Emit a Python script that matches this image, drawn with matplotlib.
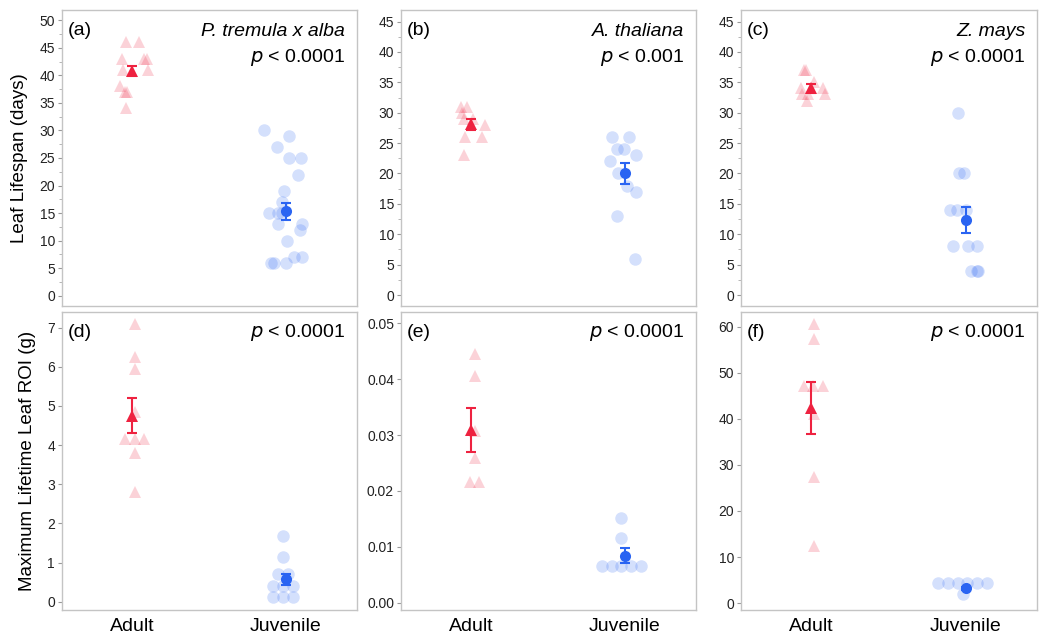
import matplotlib
matplotlib.use("Agg")
import matplotlib.pyplot as plt
from matplotlib.ticker import MultipleLocator, FormatStrFormatter

plt.rcParams['font.family'] = ['Liberation Sans', 'DejaVu Sans']

groups = ["Adult", "Juvenile"]
panel_labels = ["(a)", "(b)", "(c)", "(d)", "(e)", "(f)"]
species = ["P. tremula x alba", "A. thaliana", "Z. mays", None, None, None]
p_texts = ["< 0.0001", "< 0.001", "< 0.0001", "< 0.0001", "< 0.0001", "< 0.0001"]
ylabels = ["Leaf Lifespan (days)", "Maximum Lifetime Leaf ROI (g)"]

# individual values
a_adult = [46, 46, 43, 43, 43, 41, 41, 38, 37, 37, 34]
a_juv = [30, 29, 27, 25, 25, 22, 19, 17, 15, 15, 15, 13, 13, 12, 10, 7, 7, 6, 6, 6]
b_adult = [31, 31, 30, 29, 29, 28, 26, 26, 23]
b_juv = [26, 26, 24, 24, 23, 22, 20, 18, 17, 13, 6]
c_adult = [37, 37, 35, 34, 34, 33, 33, 33, 32]
c_juv = [30, 20, 20, 14, 14, 14, 8, 8, 8, 4, 4, 4]
d_adult = [7.1, 6.25, 5.95, 4.85, 4.15, 4.15, 4.15, 3.8, 2.8]
d_juv = [1.68, 1.15, 0.70, 0.70, 0.40, 0.40, 0.40, 0.13, 0.13, 0.13]
e_adult = [0.0444, 0.0406, 0.0307, 0.0259, 0.0216, 0.0216]
e_juv = [0.0152, 0.0115, 0.0065, 0.0065, 0.0065, 0.0065, 0.0065]
f_adult = [60.5, 57.4, 47.2, 47.2, 47.2, 41.1, 27.3, 12.4]
f_juv = [4.3, 4.3, 4.3, 4.3, 4.3, 4.3, 1.9]

# horizontal jitter of each point
a_adult_jit = [-0.041, 0.048, -0.065, 0.080, 0.100, -0.061, 0.102, -0.076, -0.046, -0.035, -0.041]
a_juv_jit = [-0.141, 0.022, -0.059, 0.022, 0.100, 0.082, -0.011, -0.026, -0.111, -0.048, -0.026,
             -0.054, 0.102, 0.093, 0.007, 0.050, 0.108, -0.095, -0.080, -0.002]
b_adult_jit = [-0.065, -0.024, -0.061, -0.046, 0.015, 0.089, -0.039, 0.074, -0.046]
b_juv_jit = [-0.082, 0.030, -0.052, -0.007, 0.074, -0.095, -0.046, 0.013, 0.074, -0.050, 0.069]
c_adult_jit = [-0.046, -0.037, 0.015, -0.067, 0.074, -0.061, -0.024, 0.087, -0.028]
c_juv_jit = [-0.050, -0.041, -0.009, -0.098, -0.054, 0.0, -0.080, 0.015, 0.072, 0.033, 0.076, 0.082]
d_adult_jit = [0.017, 0.017, 0.017, 0.017, -0.045, 0.020, 0.080, 0.017, 0.017]
d_juv_jit = [-0.020, -0.020, -0.052, 0.015, -0.085, -0.020, 0.046, -0.085, -0.020, 0.046]
e_adult_jit = [0.024, 0.024, 0.024, 0.024, -0.007, 0.054]
e_juv_jit = [-0.022, -0.022, -0.147, -0.082, -0.022, 0.043, 0.108]
f_adult_jit = [0.015, 0.015, -0.050, 0.011, 0.076, 0.015, 0.015, 0.015]
f_juv_jit = [-0.178, -0.113, -0.052, 0.011, 0.076, 0.137, -0.015]

# group means and standard errors
means_adult = [40.8, 28.1, 34.0, 4.75, 0.0309, 42.4]
se_adult = [0.9, 0.9, 0.8, 0.45, 0.0039, 5.6]
means_juv = [15.3, 20.0, 12.35, 0.57, 0.0084, 3.2]
se_juv = [1.6, 1.65, 2.2, 0.15, 0.0013, 0.4]

adult_vals = [a_adult, b_adult, c_adult, d_adult, e_adult, f_adult]
juv_vals = [a_juv, b_juv, c_juv, d_juv, e_juv, f_juv]
adult_jit = [a_adult_jit, b_adult_jit, c_adult_jit, d_adult_jit, e_adult_jit, f_adult_jit]
juv_jit = [a_juv_jit, b_juv_jit, c_juv_jit, d_juv_jit, e_juv_jit, f_juv_jit]

ylims = [(-1.9, 51.9), (-1.8, 46.9), (-1.8, 46.9), (-0.21, 7.40), (-0.0013, 0.0520), (-1.5, 63.2)]
ymajor = [5, 5, 5, 1, 0.01, 10]
ymax_tick = [50, 45, 45, 7, 0.05, 60]

RED = "#ee2240"
BLUE = "#2a64f2"
SPINE = "#c4c4c4"

W, H = 1050, 642
fig = plt.figure(figsize=(W / 100, H / 100), dpi=100)
cols = [(62, 357), (401, 696), (741, 1037)]
rows = [(10, 306), (312, 610)]

for i in range(6):
    r, c = divmod(i, 3)
    x0, x1 = cols[c]
    t, b = rows[r]
    ax = fig.add_axes([x0 / W, 1 - b / H, (x1 - x0) / W, (b - t) / H])
    ax.set_xlim(-0.455, 1.4625)
    ax.set_ylim(*ylims[i])

    xa = [0 + j for j in adult_jit[i]]
    xj = [1 + j for j in juv_jit[i]]
    ax.plot(xa, adult_vals[i], linestyle="none", marker="^", markersize=9,
            color=RED, alpha=0.2, markeredgewidth=0, zorder=2)
    ax.plot(xj, juv_vals[i], linestyle="none", marker="o", markersize=9,
            color=BLUE, alpha=0.2, markeredgewidth=0, zorder=2)

    ax.errorbar([0], [means_adult[i]], yerr=[se_adult[i]], fmt="none",
                ecolor=RED, elinewidth=1.5, capsize=3.5, capthick=1.5, zorder=3)
    ax.plot([0], [means_adult[i]], linestyle="none", marker="^", markersize=9,
            color=RED, markeredgewidth=0, zorder=4)
    ax.errorbar([1], [means_juv[i]], yerr=[se_juv[i]], fmt="none",
                ecolor=BLUE, elinewidth=1.5, capsize=3.5, capthick=1.5, zorder=3)
    ax.plot([1], [means_juv[i]], linestyle="none", marker="o", markersize=8,
            color=BLUE, markeredgewidth=0, zorder=4)

    ax.yaxis.set_major_locator(MultipleLocator(ymajor[i]))
    if r == 0:
        ax.yaxis.set_minor_locator(MultipleLocator(ymajor[i] / 2))
    if i == 4:
        ax.yaxis.set_major_formatter(FormatStrFormatter("%.2f"))
    ax.set_yticks([v for v in ax.get_yticks() if 0 <= v <= ymax_tick[i] + 1e-9])
    ax.set_ylim(*ylims[i])

    for s in ax.spines.values():
        s.set_color(SPINE)
        s.set_linewidth(1.0)
    ax.tick_params(axis="y", which="major", length=3, width=0.8, color="#999999",
                   labelsize=10, pad=2, labelcolor="#222222")
    ax.tick_params(axis="y", which="minor", length=2, width=0.6, color="#aaaaaa")

    if r == 1:
        ax.set_xticks([0, 1])
        ax.set_xticklabels(groups, fontsize=14)
        ax.tick_params(axis="x", length=0, pad=6)
    else:
        ax.set_xticks([])

    ax.text(0.018, 0.915, panel_labels[i], transform=ax.transAxes, fontsize=14,
            ha="left", va="baseline")
    if species[i] is not None:
        ax.text(0.96, 0.912, species[i], transform=ax.transAxes, fontsize=14,
                ha="right", va="baseline", style="italic")
        py = 0.826
    else:
        py = 0.917
    ax.text(0.96, py, r"$\it{p}$ " + p_texts[i], transform=ax.transAxes,
            fontsize=14, ha="right", va="baseline")

    if c == 0:
        ax.set_ylabel(ylabels[r], fontsize=13.5, labelpad=8)

fig.savefig("out.png", dpi=100)
